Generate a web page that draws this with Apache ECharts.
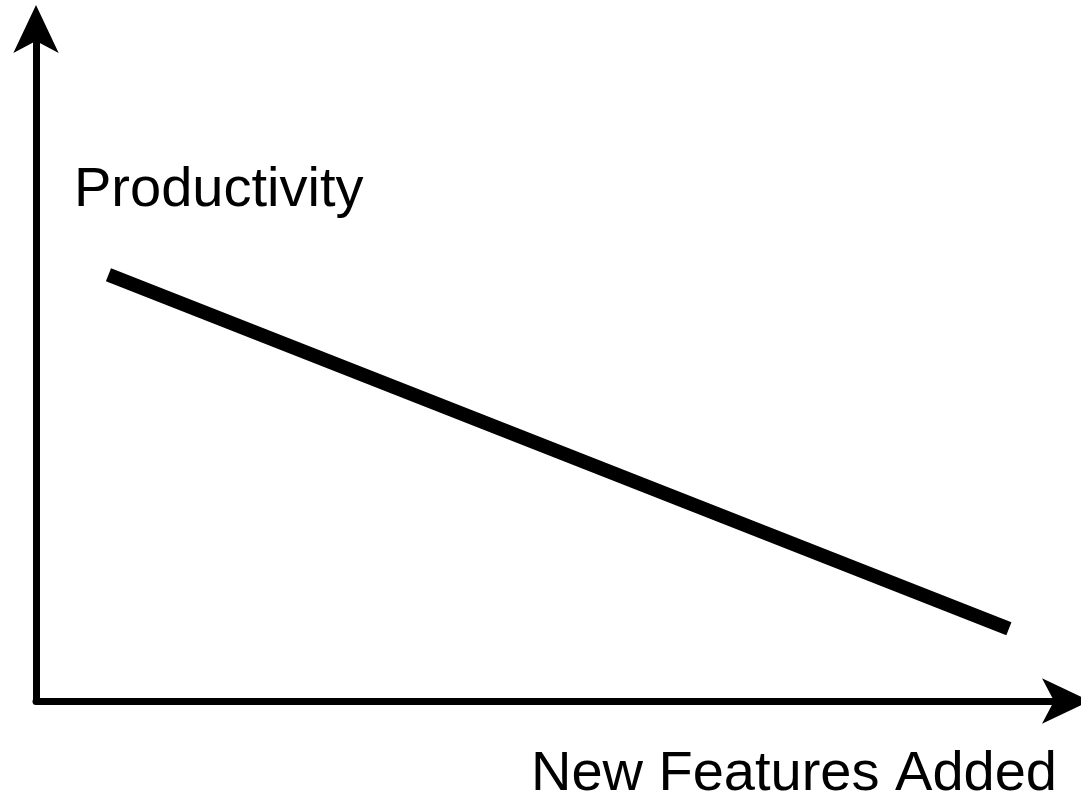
<!DOCTYPE html>
<html>
<head>
<meta charset="utf-8">
<title>Productivity vs New Features Added</title>
<script src="https://cdn.jsdelivr.net/npm/echarts@6/dist/echarts.min.js"></script>
<style>
  html, body { margin: 0; padding: 0; background: #fff; }
  #main { width: 1081px; height: 796px; }
</style>
</head>
<body>
<div id="main"></div>
<script>
/* 数据 */
var xName = 'New Features Added';
var yName = 'Productivity';
var featuresAdded = [7.0, 94.0];    // x 值 (0-100)
var productivity = [62.6, 10.6];    // y 值 (0-100)

var myChart = echarts.init(document.getElementById('main'));

var points = featuresAdded.map(function (x, i) {
    return [x, productivity[i]];
});

// 坐标轴公共样式, offset 为箭头超出轴端的距离
function axisStyle (offset) {
    return {
        type: 'value',
        min: 0,
        max: 100,
        axisLine: {
            show: true,
            symbol: ['none', 'arrow'],
            symbolSize: [34, 48],
            symbolOffset: [0, offset],
            lineStyle: { color: '#000', width: 7 }
        },
        axisTick: { show: false },
        axisLabel: { show: false },
        splitLine: { show: false }
    };
}

var option = {
    backgroundColor: '#fff',
    animation: false,
    grid: {
        left: 36,
        right: 10,
        top: 20,
        bottom: 95
    },
    xAxis: axisStyle(19),
    yAxis: axisStyle(15),
    graphic: [
        {
            type: 'text',
            left: 74,
            top: 163,
            style: {
                text: yName,
                font: '56px "Liberation Sans", Arial, sans-serif',
                fill: '#000'
            }
        },
        {
            type: 'text',
            right: 24,
            top: 747,
            style: {
                text: xName,
                font: '56px "Liberation Sans", Arial, sans-serif',
                fill: '#000'
            }
        }
    ],
    series: [{
        type: 'line',
        data: points,
        symbol: 'none',
        lineStyle: { color: '#000', width: 14, cap: 'butt' }
    }]
};

myChart.setOption(option);
</script>
</body>
</html>
